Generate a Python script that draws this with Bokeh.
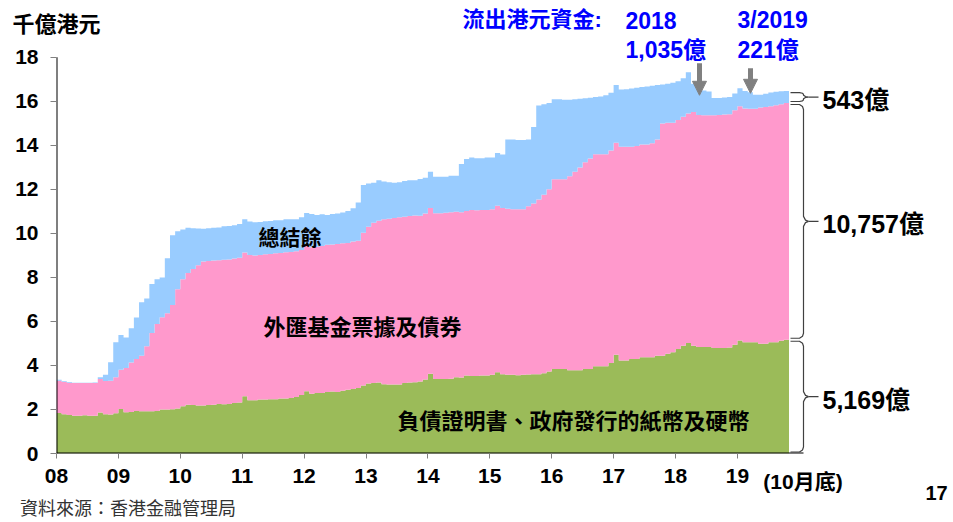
import numpy as np
import pandas as pd
from bokeh.plotting import figure
from bokeh.models import Range1d, FixedTicker, Label, Arrow, NormalHead, LinearAxis
from bokeh.embed import file_html
from bokeh.resources import INLINE

# ---------------- data (HK$ trillion, month-end, Jan 2008 - Oct 2019) ----------------
months = pd.date_range("2008-01-01", "2019-10-01", freq="MS")

# Certificates of Indebtedness + government-issued notes & coins (green)
cert = [
    1.84, 1.78, 1.75, 1.72, 1.72, 1.74, 1.71, 1.72, 1.86, 1.78, 1.77, 1.83,
    2.02, 1.88, 1.89, 1.93, 1.92, 1.92, 1.92, 1.93, 2.00, 2.00, 2.01, 2.05,
    2.15, 2.21, 2.20, 2.18, 2.18, 2.20, 2.21, 2.25, 2.24, 2.25, 2.30, 2.32,
    2.60, 2.42, 2.42, 2.45, 2.45, 2.47, 2.47, 2.50, 2.50, 2.52, 2.57, 2.66,
    2.83, 2.71, 2.75, 2.75, 2.80, 2.82, 2.80, 2.85, 2.90, 2.93, 2.98, 3.09,
    3.18, 3.20, 3.23, 3.15, 3.13, 3.13, 3.13, 3.20, 3.23, 3.24, 3.27, 3.36,
    3.62, 3.38, 3.39, 3.38, 3.40, 3.46, 3.45, 3.54, 3.52, 3.52, 3.54, 3.54,
    3.58, 3.69, 3.60, 3.58, 3.58, 3.56, 3.58, 3.59, 3.60, 3.60, 3.65, 3.73,
    3.84, 3.84, 3.84, 3.78, 3.78, 3.78, 3.84, 3.84, 3.96, 3.96, 3.96, 4.11,
    4.49, 4.23, 4.23, 4.29, 4.29, 4.37, 4.37, 4.37, 4.44, 4.44, 4.53, 4.60,
    4.75, 4.90, 5.02, 4.90, 4.84, 4.84, 4.84, 4.79, 4.79, 4.79, 4.82, 4.94,
    5.14, 5.05, 5.05, 5.06, 4.99, 4.99, 5.05, 5.05, 5.12, 5.169,
]

# Exchange Fund Bills and Notes (pink)
efbn = [
    1.47, 1.47, 1.47, 1.48, 1.48, 1.46, 1.49, 1.48, 1.53, 1.52, 1.54, 1.63,
    1.79, 2.00, 2.25, 2.36, 2.52, 2.95, 3.55, 3.96, 4.19, 4.37, 4.74, 5.41,
    5.77, 5.99, 6.18, 6.37, 6.54, 6.55, 6.56, 6.53, 6.56, 6.57, 6.56, 6.58,
    6.53, 6.60, 6.58, 6.57, 6.60, 6.60, 6.63, 6.61, 6.64, 6.64, 6.62, 6.59,
    6.62, 6.66, 6.65, 6.68, 6.68, 6.68, 6.72, 6.70, 6.67, 6.70, 6.69, 6.94,
    7.12, 7.29, 7.35, 7.49, 7.54, 7.57, 7.60, 7.56, 7.56, 7.58, 7.53, 7.54,
    7.54, 7.54, 7.53, 7.56, 7.56, 7.52, 7.51, 7.48, 7.55, 7.53, 7.53, 7.53,
    7.52, 7.57, 7.56, 7.54, 7.52, 7.54, 7.52, 7.65, 7.76, 7.94, 8.11, 8.28,
    8.62, 8.62, 8.62, 8.82, 9.02, 9.22, 9.40, 9.57, 9.64, 9.64, 9.64, 9.66,
    9.63, 9.71, 9.71, 9.65, 9.68, 9.67, 9.67, 9.73, 9.83, 10.56, 10.50, 10.43,
    10.40, 10.40, 10.43, 10.62, 10.54, 10.53, 10.53, 10.58, 10.59, 10.61, 10.60, 10.66,
    10.64, 10.63, 10.61, 10.60, 10.73, 10.75, 10.73, 10.77, 10.75, 10.757,
]

# Aggregate Balance (blue)
agg = [
    0.04, 0.03, 0.03, 0.02, 0.02, 0.02, 0.02, 0.03, 0.07, 0.28, 0.84, 1.59,
    1.58, 1.39, 1.55, 1.89, 2.43, 2.17, 2.23, 2.03, 1.81, 2.50, 3.17, 2.64,
    2.26, 2.06, 1.85, 1.67, 1.49, 1.48, 1.49, 1.49, 1.53, 1.52, 1.51, 1.53,
    1.51, 1.52, 1.51, 1.50, 1.50, 1.50, 1.50, 1.49, 1.50, 1.48, 1.45, 1.48,
    1.48, 1.51, 1.44, 1.44, 1.36, 1.38, 1.39, 1.40, 1.45, 1.51, 1.73, 2.17,
    1.97, 1.81, 1.84, 1.72, 1.65, 1.60, 1.59, 1.62, 1.63, 1.60, 1.67, 1.63,
    1.64, 1.66, 1.66, 1.64, 1.66, 1.64, 2.19, 2.36, 2.38, 2.37, 2.35, 2.38,
    2.35, 2.40, 2.43, 3.15, 3.17, 3.15, 3.15, 3.03, 3.48, 4.27, 4.11, 3.92,
    3.64, 3.64, 3.62, 3.48, 3.30, 3.12, 2.90, 2.75, 2.60, 2.62, 2.68, 2.62,
    2.62, 2.60, 2.61, 2.64, 2.65, 2.61, 2.64, 2.61, 2.47, 1.77, 1.77, 1.82,
    1.77, 1.75, 1.87, 1.28, 1.17, 1.13, 1.08, 0.78, 0.77, 0.78, 0.78, 0.76,
    0.82, 0.79, 0.76, 0.64, 0.58, 0.61, 0.62, 0.62, 0.59, 0.543,
]

year_ticks = [2008, 2009, 2010, 2011, 2012, 2013, 2014, 2015, 2016, 2017, 2018, 2019]
year_labels = ["08", "09", "10", "11", "12", "13", "14", "15", "16", "17", "18", "19"]
y_ticks = [0, 2, 4, 6, 8, 10, 12, 14, 16, 18]

series_names = ["負債證明書、政府發行的紙幣及硬幣", "外匯基金票據及債券", "總結餘"]
series_colors = ["#9BBB59", "#FF99CC", "#99CCFF"]

unit_text = "千億港元"
outflow_title = "流出港元資金:"
outflow_1 = ("2018", "1,035億")
outflow_2 = ("3/2019", "221億")
period_note = "(10月底)"
source_text = "資料來源：香港金融管理局"
page_no = "17"

# ---------------- geometry ----------------
W, H = 953, 522
PX_YEAR = 61.9              # px per year
PX_UNIT = 397 / 18.0        # px per HK$ trillion
FRAME_L, FRAME_R, FRAME_T, FRAME_B = 56, 0, 0, 68
X0 = 2008.0
X1 = X0 + (W - FRAME_L - FRAME_R) / PX_YEAR
Y1 = (H - FRAME_B - FRAME_T) / PX_UNIT


def sx(px):  # page px -> data x
    return round(X0 + (px - 56) / PX_YEAR, 5)


def sy(py):  # page px -> data y
    return round((454 - py) / PX_UNIT, 5)


left = np.array(months.year + (months.month - 1) / 12.0, dtype=float)
edges = np.append(left, left[-1] + 1.0 / 12.0)
c = np.array(cert)
e = np.array(efbn)
a = np.array(agg)
lv1 = c
lv2 = c + e
lv3 = c + e + a

p = figure(width=W, height=H, x_range=Range1d(X0, X1), y_range=Range1d(0, Y1),
           output_backend="svg", toolbar_location=None,
           min_border_left=FRAME_L, min_border_right=FRAME_R,
           min_border_top=FRAME_T, min_border_bottom=FRAME_B)
p.title.visible = False
p.outline_line_color = None
p.grid.visible = False

for bot, top, col in [(np.zeros_like(c), lv1, series_colors[0]),
                      (lv1, lv2, series_colors[1]),
                      (lv2, lv3, series_colors[2])]:
    y1 = np.append(bot, bot[-1])
    y2 = np.append(top, top[-1])
    try:
        p.varea_step(x=edges, y1=y1, y2=y2, step_mode="after", fill_color=col)
    except Exception:
        p.quad(left=edges[:-1], right=edges[1:], bottom=bot, top=top,
               fill_color=col, line_color=col, line_width=0.7)

NUM_FONT = "Liberation Sans, Arial, Noto Sans CJK TC"
CJK_FONT = "Noto Sans CJK TC"

# ---- main axes ----
p.yaxis.ticker = FixedTicker(ticks=y_ticks)
p.yaxis.axis_line_color = None
p.yaxis.major_tick_line_color = "#808080"
p.yaxis.major_tick_out = 6
p.yaxis.major_tick_in = 0
p.yaxis.minor_tick_line_color = None
p.yaxis.major_label_text_font = NUM_FONT
p.yaxis.major_label_text_font_style = "bold"
p.yaxis.major_label_text_font_size = "21px"
p.yaxis.major_label_text_color = "black"
p.yaxis.major_label_standoff = 12

p.xaxis.ticker = FixedTicker(ticks=year_ticks)
p.xaxis.major_label_overrides = {t: l for t, l in zip(year_ticks, year_labels)}
p.xaxis.axis_line_color = None
p.xaxis.major_tick_line_color = "#808080"
p.xaxis.major_tick_out = 5
p.xaxis.major_tick_in = 0
p.xaxis.minor_tick_line_color = None
p.xaxis.major_label_text_font = NUM_FONT
p.xaxis.major_label_text_font_style = "bold"
p.xaxis.major_label_text_font_size = "21px"
p.xaxis.major_label_text_color = "black"
p.xaxis.major_label_standoff = 10

# visible axis lines (y only up to 18, x only up to the braces)
p.segment(x0=[X0], y0=[0], x1=[X0], y1=[18], line_color="black", line_width=2)
p.segment(x0=[X0], y0=[0], x1=[sx(803)], y1=[0], line_color="black", line_width=2)


def text_axis(side, pos, txt, size, style, color, standoff):
    ax = LinearAxis(ticker=FixedTicker(ticks=[pos], minor_ticks=[]),
                    major_label_overrides={pos: txt},
                    axis_line_color=None, major_tick_line_color=None,
                    minor_tick_line_color=None, major_tick_out=0, major_tick_in=0,
                    major_label_text_font=NUM_FONT if style == "bold" else CJK_FONT,
                    major_label_text_font_size=size,
                    major_label_text_font_style=style,
                    major_label_text_color=color,
                    major_label_standoff=standoff)
    p.add_layout(ax, side)
    return ax


# unit caption above the y axis (carried by a secondary left axis)
text_axis("left", sy(24), unit_text, "22px", "bold", "black", -88)
# notes below the x axis: source first, then the zero-height note carriers
text_axis("below", sx(127.5), source_text, "18px", "normal", "#333333", 8)
text_axis("below", sx(802.5), period_note, "21px", "bold", "black", -53)
text_axis("below", sx(936), page_no, "20px", "bold", "black", -37)


# ---- braces at the right ----
def brace(bottom_v, top_v):
    t = 454 - top_v * PX_UNIT + 1.5
    b = 454 - bottom_v * PX_UNIT - 1.5
    m = (t + b) / 2
    k = min(5.0, (b - t) / 5)
    pts = [(790, t), (799, t), (802, t + k * 0.4), (803, t + k), (803, m - k),
           (805, m - k * 0.25), (808, m), (805, m + k * 0.25), (803, m + k),
           (803, b - k), (802, b - k * 0.4), (799, b), (790, b)]
    p.line([sx(q[0]) for q in pts], [sy(q[1]) for q in pts],
           line_color="#404040", line_width=1.2)
    p.line([sx(808), sx(818)], [sy(m), sy(m)], line_color="#404040", line_width=1.2)
    return m


totals = [(0.0, lv1[-1], c[-1]), (lv1[-1], lv2[-1], e[-1]), (lv2[-1], lv3[-1], a[-1])]
for bv, tv, val in totals:
    m = brace(bv, tv)
    txt = f"{int(round(val * 1000)):,}億"
    p.add_layout(Label(x=sx(822), y=sy(m + 3), text=txt, text_font=NUM_FONT,
                       text_font_size="25px", text_font_style="bold", text_color="black",
                       text_align="left", text_baseline="middle"))

# ---- outflow arrows ----
GRAY = "#808080"
for ax_px, y_top, y_base, y_tip in [(699, 63, 84, 95), (750, 68, 81, 93)]:
    p.segment(x0=[sx(ax_px)], y0=[sy(y_top)], x1=[sx(ax_px)], y1=[sy(y_base)],
              line_color=GRAY, line_width=5)
    p.add_layout(Arrow(end=NormalHead(size=14, fill_color=GRAY, line_color=GRAY),
                       x_start=sx(ax_px), y_start=sy(y_base - 1), x_end=sx(ax_px), y_end=sy(y_tip),
                       line_alpha=0, line_width=0))


def label(text, px, py, size, font, color="black", style="bold", align="left"):
    p.add_layout(Label(x=sx(px), y=sy(py), text=text, text_font=font,
                       text_font_size=size, text_font_style=style, text_color=color,
                       text_align=align, text_baseline="middle"))


BLUE = "#0000FF"
label(outflow_title, 462, 19, "22px", NUM_FONT, BLUE)
label(outflow_1[0], 625, 20, "23px", NUM_FONT, BLUE)
label(outflow_1[1], 625, 50, "23px", NUM_FONT, BLUE)
label(outflow_2[0], 737, 20, "23px", NUM_FONT, BLUE)
label(outflow_2[1], 737, 50, "23px", NUM_FONT, BLUE)

label(series_names[2], 258, 236, "21px", CJK_FONT)
label(series_names[1], 263, 325, "22px", CJK_FONT)
label(series_names[0], 397, 419, "22px", CJK_FONT)

open("out.html", "w").write(file_html(p, INLINE))
